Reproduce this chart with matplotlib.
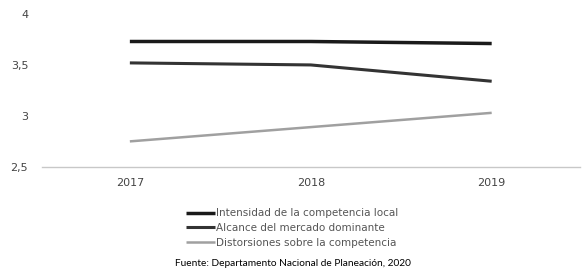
import matplotlib.pyplot as plt

years = ['2017', '2018', '2019']
intensidad = [3.73, 3.73, 3.71]
alcance = [3.52, 3.50, 3.34]
distorsiones = [2.75, 2.89, 3.03]
series_names = ['Intensidad de la competencia local',
                'Alcance del mercado dominante',
                'Distorsiones sobre la competencia']
y_ticks = [2.5, 3, 3.5, 4]
y_tick_labels = ['2,5', '3', '3,5', '4']

fig = plt.figure(figsize=(5.85, 2.74), dpi=100)
ax = fig.add_axes([0.072, 0.391, 0.92, 0.558])

x = list(range(len(years)))
ax.plot(x, intensidad, color='#1a1a1a', linewidth=2.5, label=series_names[0], solid_capstyle='butt')
ax.plot(x, alcance, color='#333333', linewidth=2.2, label=series_names[1], solid_capstyle='butt')
ax.plot(x, distorsiones, color='#a0a0a0', linewidth=1.8, label=series_names[2], solid_capstyle='butt')

ax.set_ylim(2.5, 4)
ax.set_xlim(-0.485, 2.49)
ax.set_yticks(y_ticks)
ax.set_yticklabels(y_tick_labels)
ax.set_xticks(x)
ax.set_xticklabels(years)
ax.tick_params(length=0, labelsize=8, colors='#444444')
ax.tick_params(axis='y', pad=10)
ax.tick_params(axis='x', pad=8)

for s in ['top', 'right', 'left']:
    ax.spines[s].set_visible(False)
ax.spines['bottom'].set_color('#c8c8c8')
ax.spines['bottom'].set_linewidth(1)

fig.legend(loc='center', bbox_to_anchor=(0.5, 0.168), frameon=False,
           fontsize=7.5, handlelength=2.8, handletextpad=0.1,
           labelspacing=0.45, labelcolor='#555555')

fig.text(0.5, 0.04, 'Fuente: Departamento Nacional de Planeación, 2020',
         ha='center', va='center', fontsize=7.3, family='Lato')

fig.savefig('out.png', dpi=100)
